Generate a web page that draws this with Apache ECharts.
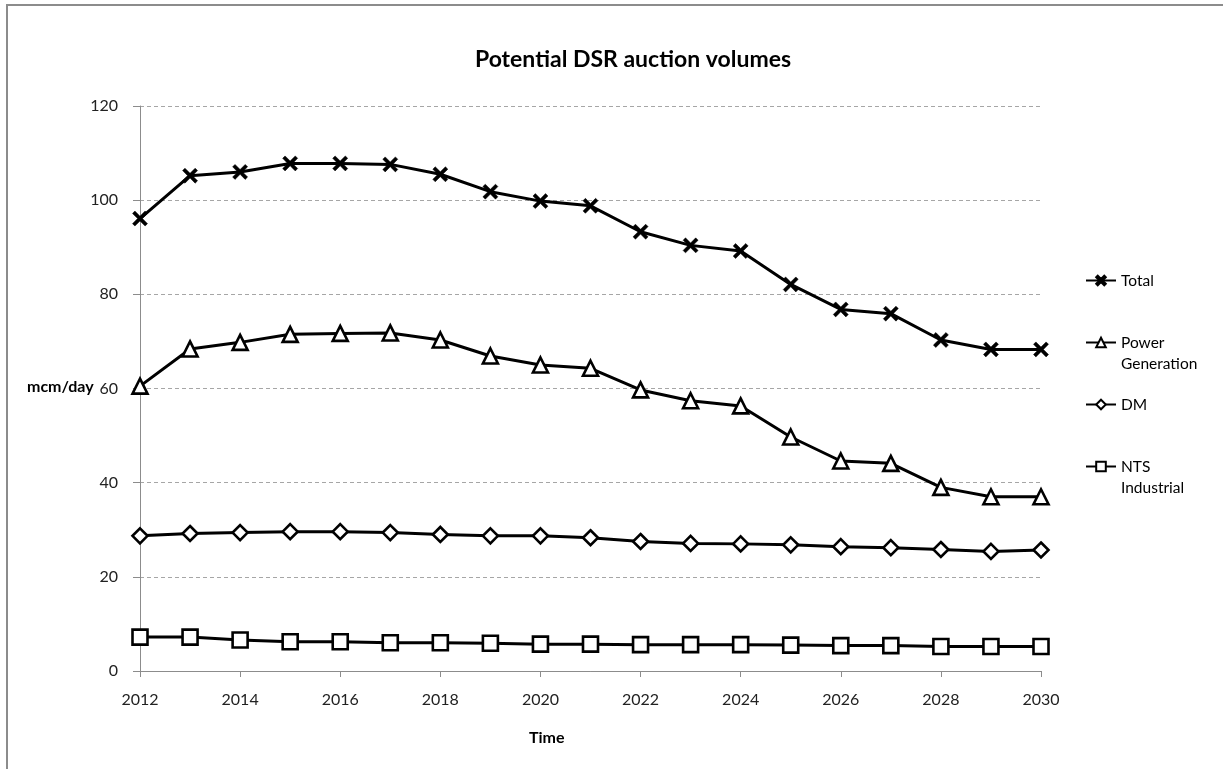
<!DOCTYPE html>
<html>
<head>
<meta charset="utf-8">
<title>Potential DSR auction volumes</title>
<script src="https://cdn.jsdelivr.net/npm/echarts@6/dist/echarts.min.js"></script>
<style>
  html, body { margin: 0; padding: 0; background: #ffffff; }
  #chart { width: 1223px; height: 769px; }
</style>
</head>
<body>
<div id="chart"></div>
<script>
// Years on the horizontal axis
const years = [2012, 2013, 2014, 2015, 2016, 2017, 2018, 2019, 2020, 2021,
               2022, 2023, 2024, 2025, 2026, 2027, 2028, 2029, 2030];

// Volumes in mcm/day
const total = [96.1, 105.2, 106.0, 107.8, 107.8, 107.6, 105.5, 101.8, 99.8, 98.8,
               93.3, 90.4, 89.2, 82.1, 76.8, 75.9, 70.3, 68.3, 68.3];
const powerGeneration = [60.5, 68.4, 69.8, 71.5, 71.7, 71.8, 70.3, 66.9, 65.0, 64.3,
                         59.7, 57.4, 56.3, 49.7, 44.6, 44.1, 39.0, 37.0, 37.0];
const dm = [28.7, 29.2, 29.4, 29.6, 29.6, 29.4, 29.0, 28.7, 28.7, 28.3,
            27.5, 27.1, 27.0, 26.8, 26.4, 26.2, 25.8, 25.4, 25.7];
const ntsIndustrial = [7.2, 7.2, 6.6, 6.2, 6.2, 6.0, 6.0, 5.9, 5.7, 5.7,
                       5.6, 5.6, 5.6, 5.5, 5.4, 5.4, 5.2, 5.2, 5.2];

const seriesNames = ['Total', 'Power Generation', 'DM', 'NTS Industrial'];
const legendLabels = {
  'Total': 'Total',
  'Power Generation': '\nPower\nGeneration',
  'DM': 'DM',
  'NTS Industrial': '\nNTS\nIndustrial'
};

const FONT = 'Lato, "Open Sans", sans-serif';
const crossPath = 'path://M0,1.6 L1.6,0 L5,3.4 L8.4,0 L10,1.6 L6.6,5 L10,8.4 L8.4,10 L5,6.6 L1.6,10 L0,8.4 L3.4,5 Z';

function pairs(values) {
  return years.map((y, i) => [y, values[i]]);
}

function lineSeries(name, values, symbol, size, hollow) {
  return {
    name: name,
    type: 'line',
    data: pairs(values),
    symbol: symbol,
    symbolSize: size,
    showAllSymbol: true,
    lineStyle: { color: '#000', width: 3 },
    itemStyle: hollow
      ? { color: '#fff', borderColor: '#000', borderWidth: 2.6 }
      : { color: '#000', borderColor: '#000', borderWidth: 0.5 },
    emphasis: { disabled: true },
    z: 3
  };
}

const chart = echarts.init(document.getElementById('chart'), null, { renderer: 'canvas' });

chart.setOption({
  backgroundColor: '#ffffff',
  animation: false,
  title: {
    text: 'Potential DSR auction volumes',
    left: 628,
    textAlign: 'center',
    top: 43,
    textStyle: { fontFamily: FONT, fontWeight: 'bold', fontSize: 23, color: '#000' }
  },
  grid: { left: 140, right: 182, top: 106, bottom: 98 },
  xAxis: {
    type: 'value',
    min: 2012,
    max: 2030,
    interval: 2,
    axisLine: { show: true, lineStyle: { color: '#8c8c8c', width: 1 } },
    axisTick: { show: true, inside: false, length: 6, lineStyle: { color: '#8c8c8c' } },
    axisLabel: { fontFamily: FONT, fontSize: 16, color: '#222', margin: 21, formatter: v => String(v) },
    splitLine: { show: false }
  },
  yAxis: {
    type: 'value',
    min: 0,
    max: 120,
    interval: 20,
    axisLine: { show: true, lineStyle: { color: '#8c8c8c', width: 1 } },
    axisTick: { show: true, inside: false, length: 7, lineStyle: { color: '#8c8c8c' } },
    axisLabel: { fontFamily: FONT, fontSize: 16, color: '#222', margin: 22 },
    splitLine: { show: true, lineStyle: { color: '#a6a6a6', type: [4, 3], width: 1 } }
  },
  legend: {
    orient: 'vertical',
    left: 1080,
    top: 265,
    itemGap: 20,
    itemWidth: 30,
    itemHeight: 12,
    selectedMode: false,
    data: seriesNames,
    formatter: name => legendLabels[name],
    textStyle: { fontFamily: FONT, fontSize: 15.5, color: '#000', lineHeight: 21, padding: [0, 0, 0, 0] }
  },
  graphic: [
    {
      type: 'text',
      left: 27,
      top: 379,
      style: { text: 'mcm/day', fontFamily: FONT, fontWeight: 'bold', fontSize: 16, fill: '#000' }
    },
    {
      type: 'text',
      left: 529,
      top: 730,
      style: { text: 'Time', fontFamily: FONT, fontWeight: 'bold', fontSize: 16, fill: '#000' }
    },
    {
      type: 'polyline',
      shape: { points: [[7, 769], [7, 5], [1223, 5]] },
      style: { stroke: '#8c8c8c', lineWidth: 2, fill: null }
    }
  ],
  series: [
    lineSeries('Total', total, crossPath, 15, false),
    lineSeries('Power Generation', powerGeneration, 'triangle', 15, true),
    lineSeries('DM', dm, 'diamond', 15, true),
    lineSeries('NTS Industrial', ntsIndustrial, 'rect', 15, true)
  ]
});
</script>
</body>
</html>
